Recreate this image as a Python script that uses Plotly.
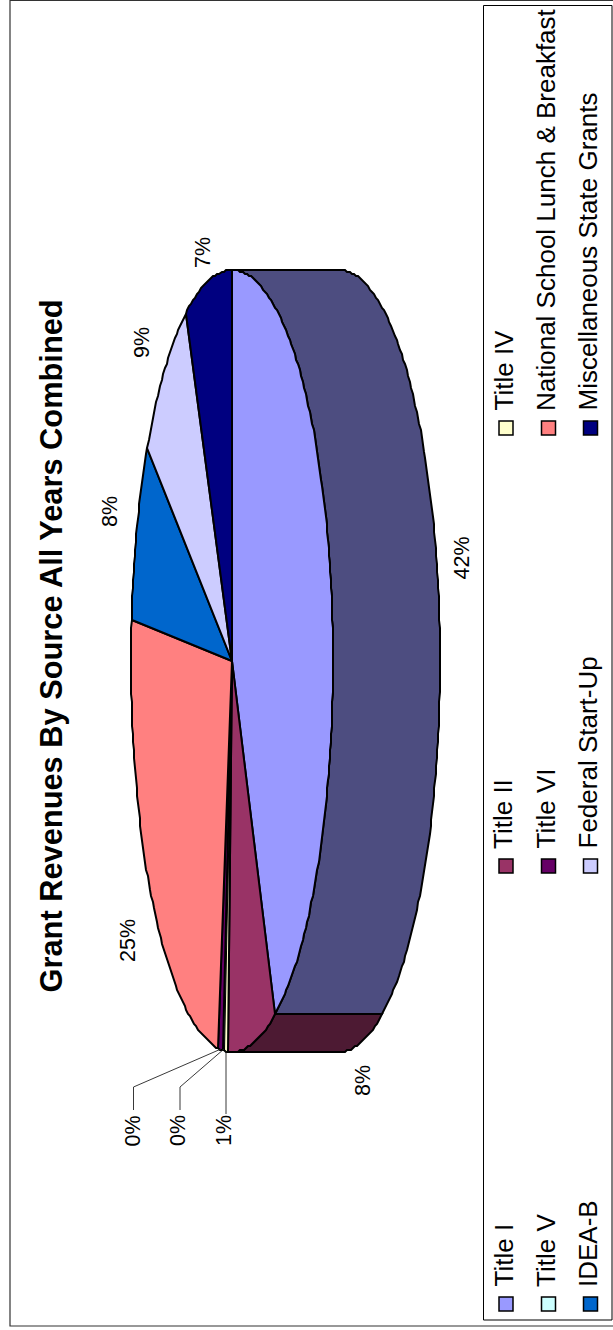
import numpy as np
import plotly.graph_objects as go

# ---- data ----
categories = ["Title I", "Title II", "Title IV", "Title V", "Title VI",
              "National School Lunch & Breakfast", "IDEA-B",
              "Federal Start-Up", "Miscellaneous State Grants"]
values = [42.9, 7.7, 0.6, 0.1, 0.8, 24.5, 7.5, 8.2, 7.6]
pct_labels = ["42%", "8%", "1%", "0%", "0%", "25%", "8%", "9%", "7%"]
title_text = "Grant Revenues By Source All Years Combined"

# ---- style / layout ----
colors = ["#9999FF", "#993366", "#FFFFCC", "#CCFFFF", "#660066",
          "#FF8080", "#0066CC", "#CCCCFF", "#000080"]
side_colors = ["#4D4D80", "#4D1A33"]
W, H = 613, 1330
CX, CY, AX, AY, DEPTH = 232, 661, 101, 391, 107
FONT = "Liberation Sans"

label_pos = [(461.5, 558), (363, 1081), (224, 1131), (178, 1131), (132.5, 1131),
             (128, 941), (110, 512), (142, 343), (203, 253)]
leader_elbow = {2: (226, 1114), 3: (180, 1087), 4: (133.5, 1087)}
leader_end = {2: (226, 1114), 3: (180, 1110), 4: (133.5, 1110)}

legend_order = [[0, 3, 6], [1, 4, 7], [2, 5, 8]]
legend_x = [506, 548.5, 590.5]
legend_y = [1304, 866, 428]

fracs = np.array(values) / sum(values) * 360.0
edges = np.concatenate([[0.0], np.cumsum(fracs)])


def arc(a0, a1, dx=0.0):
    n = max(2, int(abs(a1 - a0) / 1.2) + 2)
    t = np.radians(np.linspace(a0, a1, n))
    x = CX + dx + AX * np.sin(t)
    y = CY - AY * np.cos(t)
    # the reference outline is finely stepped; snap to a small grid
    return np.round(x), np.round(y / 2.0) * 2.0


fig = go.Figure()
line = dict(color="black", width=2)

# extruded wall (only the half facing the viewer)
for i, col in enumerate(side_colors):
    a0, a1 = edges[i], min(edges[i + 1], 180.0)
    xf, yf = arc(a0, a1)
    xb, yb = arc(a1, a0, DEPTH)
    fig.add_trace(go.Scatter(x=np.r_[xf, xb, xf[0]], y=np.r_[yf, yb, yf[0]],
                             mode="lines", fill="toself", fillcolor=col,
                             line=line, hoverinfo="skip", showlegend=False))

# top face
for i, col in enumerate(colors):
    xa, ya = arc(edges[i], edges[i + 1])
    fig.add_trace(go.Scatter(x=np.r_[CX, xa, CX], y=np.r_[CY, ya, CY],
                             mode="lines", fill="toself", fillcolor=col,
                             line=dict(color="black", width=2 if fracs[i] > 2 else 0.6),
                             name=categories[i], hoverinfo="name", showlegend=False))

# leader lines
for i, el in leader_elbow.items():
    mid = (edges[i] + edges[i + 1]) / 2
    sx, sy = arc(mid, mid)
    e = leader_end[i]
    fig.add_trace(go.Scatter(x=[sx[0], el[0], e[0]], y=[sy[0] - 1, el[1], e[1]],
                             mode="lines", line=dict(color="#222222", width=0.9),
                             hoverinfo="skip", showlegend=False))

# legend swatches
for r, row in enumerate(legend_order):
    fig.add_trace(go.Scatter(
        x=legend_x,
        y=[legend_y[r]] * 3,
        mode="markers",
        marker=dict(symbol="square", size=14, color=[colors[k] for k in row],
                    line=dict(color="black", width=1.5)),
        text=[categories[k] for k in row], hoverinfo="text", showlegend=False))

annotations = [dict(x=50.5, y=646, text=f"<b>{title_text}</b>", textangle=-90, showarrow=False,
                    xanchor="center", yanchor="middle", font=dict(family=FONT, size=30.8, color="black"))]
for (x, y), t in zip(label_pos, pct_labels):
    annotations.append(dict(x=x, y=y, text=t, textangle=-90, showarrow=False,
                            xanchor="center", yanchor="middle",
                            font=dict(family=FONT, size=21.5, color="black")))
for r, row in enumerate(legend_order):
    for c, k in enumerate(row):
        annotations.append(dict(x=legend_x[c] - 3, y=legend_y[r] - 15, text=categories[k], textangle=-90,
                                showarrow=False, xanchor="center", yanchor="bottom",
                                font=dict(family=FONT, size=26, color="black")))

shapes = [
    dict(type="rect", x0=10, y0=0.5, x1=W + 5, y1=1326, line=dict(color="#333333", width=1.2)),
    dict(type="rect", x0=483.5, y0=5.5, x1=612, y1=1320, line=dict(color="black", width=1.0)),
]

fig.update_layout(
    width=W, height=H, margin=dict(l=0, r=0, t=0, b=0),
    paper_bgcolor="white", plot_bgcolor="white", showlegend=False,
    xaxis=dict(range=[0, W], visible=False, fixedrange=True),
    yaxis=dict(range=[H, 0], visible=False, fixedrange=True),
    annotations=annotations, shapes=shapes,
)
fig.write_html("out.html", config={"displayModeBar": False},
               post_script="document.body.style.margin='0';document.documentElement.style.overflow='hidden';")
